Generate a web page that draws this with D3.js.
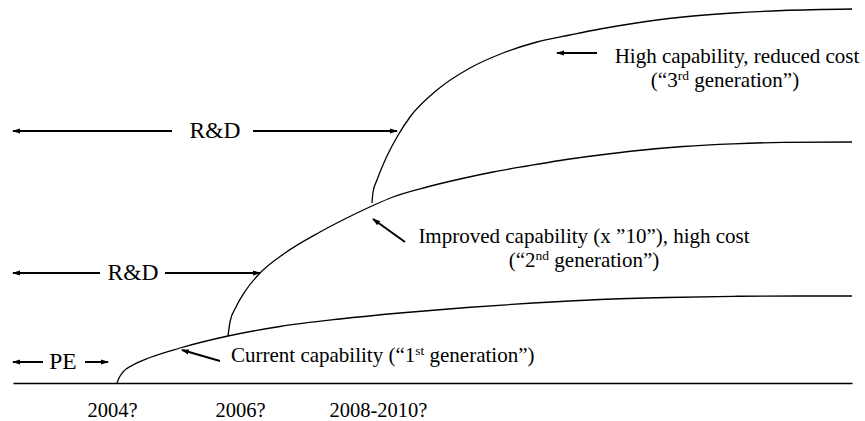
<!DOCTYPE html>
<html>
<head>
<meta charset="utf-8">
<script src="https://cdn.jsdelivr.net/npm/d3@7"></script>
<style>
  body { margin: 0; background: #fff; }
  svg { display: block; }
</style>
</head>
<body>
<svg id="chart" width="865" height="421"></svg>
<script>
const FONT = '"Liberation Serif", "Times New Roman", Tinos, Times, "DejaVu Serif", "Noto Serif", serif'

// time runs 0..839 along the baseline, capability 0..375 up from it
const yearPos = [99, 227, 365]
const yearLabels = ['2004?', '2006?', '2008-2010?']

const gen1 = [
  [104, 0], [106, 5], [110, 11], [120, 18], [137, 25.5], [167, 35], [215, 47],
  [267, 56.5], [327, 64], [387, 70], [454, 75.5], [520, 80], [587, 83.5],
  [654, 85.5], [720, 86.7], [787, 87], [839, 87],
]
const gen2 = [
  [215, 47], [217, 61], [223, 76], [233, 93], [247, 110], [272, 130], [307, 151],
  [344, 170], [360, 177.5], [380, 186], [414, 196], [447, 204], [480, 211],
  [514, 217], [547, 222.5], [587, 228], [620, 232], [670, 236.5], [720, 239.2],
  [770, 240.6], [839, 241],
]
const gen3 = [
  [359, 180], [360, 191], [364, 203], [374, 227], [384, 246], [397, 266],
  [424, 293], [457, 315], [490, 330], [524, 341], [557, 348], [587, 354],
  [620, 359.5], [670, 366], [720, 370], [770, 372.5], [839, 374],
]

// span arrows along a level, with the label between them
const spans = [
  {label: 'R&D', from: 0, leftEnd: 159, mid: 202, rightStart: 240, to: 384, level: 252},
  {label: 'R&D', from: 0, leftEnd: 87, mid: 120, rightStart: 152, to: 247, level: 110},
  {label: 'PE', from: 0, leftEnd: 30, mid: 50, rightStart: 72, to: 95, level: 21},
]

// pointers from a note to its curve: [tail, head]
const pointers = [
  [[207, 22], [169, 33]],
  [[392, 141], [360, 164]],
  [[584, 330], [544, 330]],
]

// notes: lines of [text, superscript, rest]
const notes = [
  {anchor: 'start', t: [218], v: 21, lines: [['Current capability (“1', 'st', ' generation”)']]},
  {anchor: 'middle', t: [571, 571], v: 140, lines: [['Improved capability (x ”10”), high cost'], ['(“2', 'nd', ' generation”)']]},
  {anchor: 'middle', t: [724, 712], v: 320, lines: [['High capability, reduced cost'], ['(“3', 'rd', ' generation”)']]},
]

const svg = d3.select('#chart').style('font-family', FONT)
const x = d3.scaleLinear().domain([0, 839]).range([13, 852])
const y = d3.scaleLinear().domain([0, 375]).range([383, 8])

svg.append('defs')
  .append('marker')
  .attr('id', 'head')
  .attr('viewBox', '0 -3 8 6')
  .attr('refX', 7)
  .attr('refY', 0)
  .attr('markerUnits', 'userSpaceOnUse')
  .attr('markerWidth', 8)
  .attr('markerHeight', 6)
  .attr('orient', 'auto')
  .append('path')
  .attr('d', 'M0,-2.6L8,0L0,2.6Z')
  .attr('fill', '#000')

// baseline with year labels
const axis = d3.axisBottom(x)
  .tickValues(yearPos)
  .tickFormat((d, i) => yearLabels[i])
  .tickSize(0)
  .tickSizeOuter(0)
  .tickPadding(19)

const gAxis = svg.append('g')
  .attr('transform', `translate(0, ${y(0)})`)
  .call(axis)
  .attr('font-family', null)
gAxis.select('.domain').attr('stroke', '#000').attr('stroke-width', 1.4)
gAxis.selectAll('text')
  .style('font-family', FONT)
  .style('font-size', '20.5px')
  .attr('fill', '#000')

const line = d3.line()
  .x((d) => x(d[0]))
  .y((d) => y(d[1]))
  .curve(d3.curveMonotoneX)

svg.selectAll('.gen')
  .data([gen1, gen2, gen3])
  .enter()
  .append('path')
  .attr('class', 'gen')
  .attr('d', line)
  .attr('fill', 'none')
  .attr('stroke', '#000')
  .attr('stroke-width', 1.3)

const arrow = (x1, y1, x2, y2) => svg.append('line')
  .attr('x1', x1).attr('y1', y1)
  .attr('x2', x2).attr('y2', y2)
  .attr('stroke', '#000')
  .attr('stroke-width', 2)
  .attr('marker-end', 'url(#head)')

spans.forEach((s) => {
  const yy = y(s.level)
  arrow(x(s.leftEnd), yy, x(s.from), yy)
  arrow(x(s.rightStart), yy, x(s.to), yy)
  svg.append('text')
    .attr('x', x(s.mid))
    .attr('y', yy)
    .attr('dy', '0.3em')
    .attr('text-anchor', 'middle')
    .style('font-family', FONT)
    .style('font-size', '23.5px')
    .text(s.label)
})

pointers.forEach((p) => arrow(x(p[0][0]), y(p[0][1]), x(p[1][0]), y(p[1][1])))

notes.forEach((n) => {
  n.lines.forEach((parts, i) => {
    const txt = svg.append('text')
      .attr('x', x(n.t[i]))
      .attr('y', y(n.v) + i * 23.5)
      .attr('text-anchor', n.anchor)
      .style('font-family', FONT)
      .style('font-size', '21px')
    txt.append('tspan').text(parts[0])
    if (parts.length > 1) {
      txt.append('tspan').attr('dy', -7).style('font-size', '13.5px').text(parts[1])
      txt.append('tspan').attr('dy', 7).text(parts[2])
    }
  })
})
</script>
</body>
</html>
